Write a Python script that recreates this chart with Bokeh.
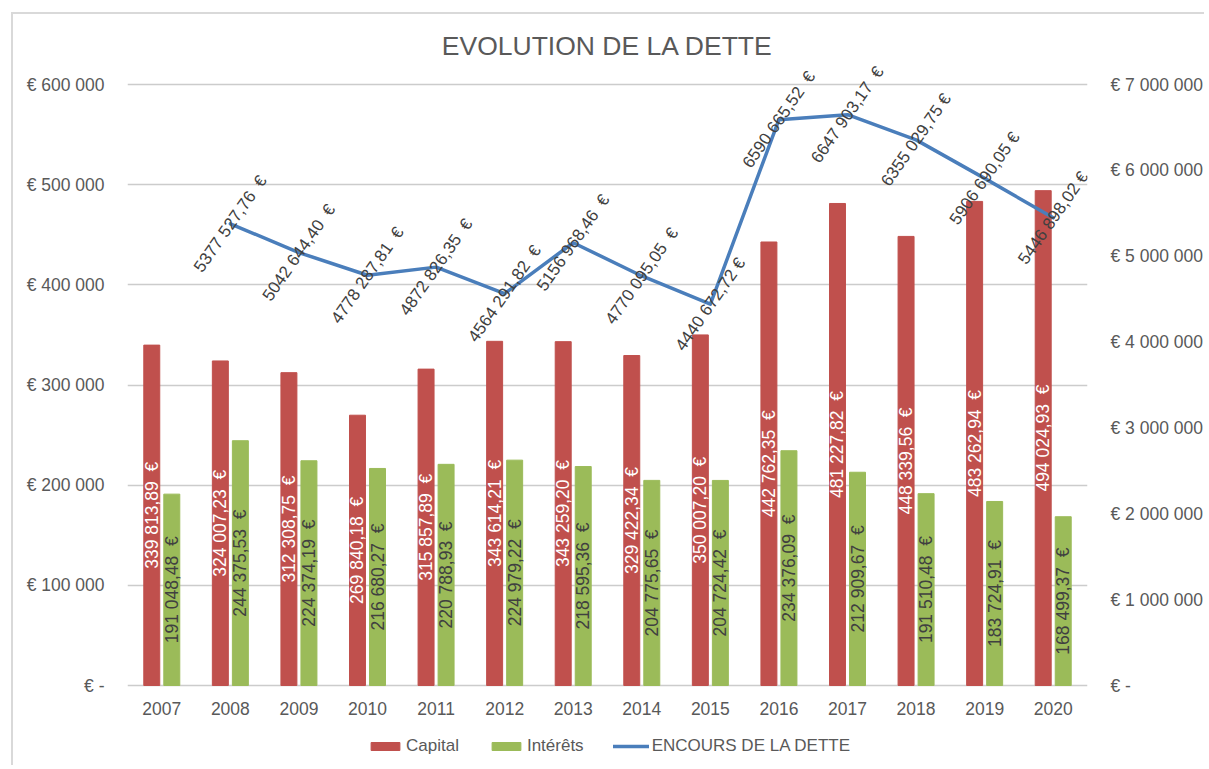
import math
from bokeh.plotting import figure
from bokeh.models import (ColumnDataSource, Range1d, LinearAxis, FixedTicker, FactorRange)
from bokeh.transform import dodge
from bokeh.core.properties import value
from bokeh.embed import file_html
from bokeh.resources import INLINE

# ---------------- data ----------------
years = ["2007", "2008", "2009", "2010", "2011", "2012", "2013",
         "2014", "2015", "2016", "2017", "2018", "2019", "2020"]
capital = [339813.89, 324007.23, 312308.75, 269840.18, 315857.89, 343614.21, 343259.20,
           329422.34, 350007.20, 442762.35, 481227.82, 448339.56, 483262.94, 494024.93]
interets = [191048.48, 244375.53, 224374.19, 216680.27, 220788.93, 224979.22, 218595.36,
            204775.65, 204724.42, 234376.09, 212909.67, 191510.48, 183724.91, 168499.37]
encours_years = ["2008", "2009", "2010", "2011", "2012", "2013", "2014",
                 "2015", "2016", "2017", "2018", "2019", "2020"]
encours = [5377527.76, 5042644.40, 4778287.81, 4872826.35, 4564291.82, 5156968.46, 4770095.05,
           4440672.72, 6590665.52, 6647903.17, 6355029.75, 5906690.05, 5446898.02]
left_ticks = [0, 100000, 200000, 300000, 400000, 500000, 600000]
right_ticks = [0, 1000000, 2000000, 3000000, 4000000, 5000000, 6000000, 7000000]
narrow_gap_years = ["2015", "2018", "2019", "2020"]

FONT = "Liberation Sans"
GREY = "#595959"
DARK = "#404040"

# ---------------- layout (pixels) ----------------
W, H = 1193, 753
FRAME_TOP = 46          # canvas px
AXIS_TOP_PX = 70        # canvas px of 600 000 / 7 000 000
AXIS_ZERO_PX = 671      # canvas px of 0
span = AXIS_ZERO_PX - AXIS_TOP_PX
above = AXIS_TOP_PX - FRAME_TOP
below = H - AXIS_ZERO_PX
LMAX, RMAX = 600000, 7000000


def fmt(v):
    cents = round(v * 100)
    ip, c = divmod(cents, 100)
    th, r = divmod(ip, 1000)
    return f"{th} {r:03d},{c:02d}"


def tick_fmt(v):
    if v == 0:
        return "€ -"
    return "€ " + f"{int(v):,}".replace(",", " ")


src = ColumnDataSource(dict(
    year=years,
    capital=capital,
    interets=interets,
    zero=[0] * len(years),
    cap_mid=[v / 2 for v in capital],
    int_mid=[v / 2 for v in interets],
    cap_lbl=[fmt(v) + " \u00a0€" for v in capital],
    int_lbl=[fmt(v) + " \u00a0€" for v in interets],
))
src_line = ColumnDataSource(dict(
    year=encours_years,
    encours=encours,
    lbl=[fmt(v) + (" €" if y in narrow_gap_years else " \u00a0€")
         for y, v in zip(encours_years, encours)],
))

p = figure(x_range=FactorRange(*years),
           y_range=Range1d(-below * LMAX / span, LMAX + above * LMAX / span),
           width=W, height=H, output_backend="svg", toolbar_location=None,
           x_axis_location=None,
           min_border_left=114, min_border_right=119, min_border_top=FRAME_TOP,
           min_border_bottom=0)
p.extra_y_ranges = {"right": Range1d(-below * RMAX / span, RMAX + above * RMAX / span)}
p.outline_line_color = None
p.background_fill_color = "white"
p.border_fill_color = "white"

# title
p.title.text = "EVOLUTION DE LA DETTE"
p.title.align = "center"
p.title.offset = 8
p.title.text_font = FONT
p.title.text_font_size = "26.5px"
p.title.text_font_style = "normal"
p.title.text_color = GREY
p.title.standoff = 0

# grid
p.xgrid.grid_line_color = None
p.ygrid.ticker = FixedTicker(ticks=left_ticks)
p.ygrid.grid_line_color = "#cccccc"
p.ygrid.grid_line_width = 1.5

# left axis
lax = p.yaxis[0]
lax.axis_line_color = None
lax.major_tick_line_color = None
lax.minor_tick_line_color = None
lax.major_label_text_font = FONT
lax.major_label_text_font_size = "17.5px"
lax.major_label_text_color = GREY
lax.ticker = FixedTicker(ticks=left_ticks)
lax.major_label_overrides = {t: tick_fmt(t) for t in left_ticks}
lax.major_label_standoff = 17

# right axis
rax = LinearAxis(y_range_name="right", ticker=FixedTicker(ticks=right_ticks))
rax.axis_line_color = None
rax.major_tick_line_color = None
rax.minor_tick_line_color = None
rax.major_label_text_font = FONT
rax.major_label_text_font_size = "17.5px"
rax.major_label_text_color = GREY
rax.major_label_overrides = {t: tick_fmt(t) for t in right_ticks}
rax.major_label_standoff = 17
p.add_layout(rax, "right")

# category labels (x axis)
p.text(x="year", y="zero", text="year", source=src, y_offset=23,
       text_align="center", text_baseline="middle",
       text_font=value(FONT), text_font_size="17.5px", text_color=GREY)

# bars
p.vbar(x=dodge("year", -0.146, range=p.x_range), top="capital", width=0.233, source=src,
       fill_color="#c0504d", line_color="#c0504d", legend_label="Capital")
p.vbar(x=dodge("year", 0.146, range=p.x_range), top="interets", width=0.233, source=src,
       fill_color="#9bbb59", line_color="#9bbb59", legend_label="Intérêts")

# bar labels
p.text(x=dodge("year", -0.146, range=p.x_range), y="cap_mid", text="cap_lbl", source=src,
       angle=math.pi / 2, text_align="center", text_baseline="middle",
       text_font=value(FONT), text_font_size="17.5px", text_color="white")
p.text(x=dodge("year", 0.146, range=p.x_range), y="int_mid", text="int_lbl", source=src,
       angle=math.pi / 2, text_align="center", text_baseline="middle",
       text_font=value(FONT), text_font_size="17.5px", text_color=DARK)

# line
p.line(x="year", y="encours", source=src_line, y_range_name="right",
       line_color="#4a7ebb", line_width=3.5, line_join="round", line_cap="round",
       legend_label="ENCOURS DE LA DETTE")
p.text(x="year", y="encours", text="lbl", source=src_line, y_range_name="right",
       angle=55 * math.pi / 180, text_align="center", text_baseline="middle",
       text_font=value(FONT), text_font_size="17px", text_color=DARK)

# legend
lg = p.legend[0]
lg.orientation = "horizontal"
lg.location = (240, 11)
lg.padding = 0
lg.margin = 0
lg.spacing = 29
lg.glyph_width = 36
lg.glyph_height = 10
lg.label_standoff = 3
lg.label_height = 20
lg.label_text_font = FONT
lg.label_text_font_size = "17px"
lg.label_text_color = GREY
lg.border_line_color = None
lg.background_fill_alpha = 0

p.styles = {"margin-left": "11px", "margin-top": "12px",
            "border-top": "2px solid #d9d9d9", "border-left": "2px solid #d9d9d9"}

open("out.html", "w").write(file_html(p, INLINE))
